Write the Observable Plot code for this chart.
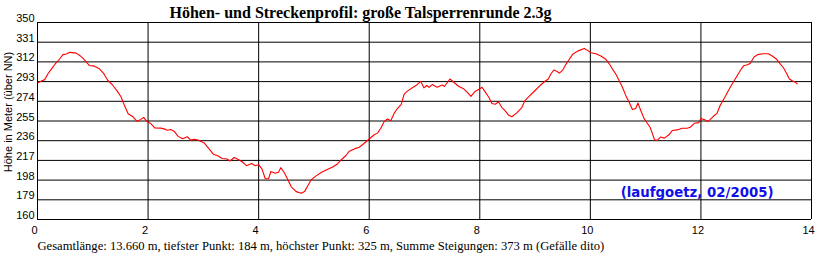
<!DOCTYPE html>
<html>
<head>
<meta charset="utf-8">
<script src="https://cdn.jsdelivr.net/npm/d3@7"></script>
<script src="https://cdn.jsdelivr.net/npm/@observablehq/plot@0.6"></script>
<style>
  html, body { margin: 0; padding: 0; background: #fff; }
  #chart svg { display: block; }
</style>
</head>
<body>
<div id="chart"></div>
<script>
const titleText = "Höhen- und Streckenprofil: große Talsperrenrunde 2.3g";
const footerText = "Gesamtlänge: 13.660 m, tiefster Punkt: 184 m, höchster Punkt: 325 m, Summe Steigungen: 373 m (Gefälle dito)";
const yAxisTitle = "Höhe in Meter (über NN)";
const annotationText = "(laufgoetz, 02/2005)";

const xTicks = [0, 2, 4, 6, 8, 10, 12, 14];
const yTicks = [160, 179, 198, 217, 236, 255, 274, 293, 312, 331, 350];

// distance along the route (km)
const dist = [
  0.01,0.07,0.13,0.19,0.25,0.32,0.40,0.46,0.52,0.59,0.70,0.77,0.85,0.94,1.03,1.12,1.20,1.27,1.36,1.44,
  1.51,1.57,1.64,1.72,1.80,1.86,1.92,1.98,2.05,2.12,2.23,2.29,2.35,2.41,2.47,2.54,2.62,2.71,2.77,2.84,
  2.92,3.01,3.10,3.18,3.26,3.34,3.43,3.48,3.56,3.64,3.70,3.78,3.87,3.94,4.00,4.06,4.12,4.18,4.22,4.30,
  4.36,4.40,4.46,4.52,4.59,4.68,4.77,4.83,4.89,4.95,5.04,5.13,5.25,5.34,5.43,5.50,5.58,5.64,5.73,5.82,
  5.90,6.00,6.09,6.15,6.21,6.27,6.33,6.39,6.45,6.51,6.58,6.63,6.69,6.78,6.86,6.93,6.99,7.04,7.08,7.14,
  7.23,7.32,7.36,7.46,7.53,7.62,7.71,7.77,7.84,7.92,8.00,8.04,8.10,8.16,8.22,8.28,8.34,8.40,8.46,8.52,
  8.58,8.67,8.76,8.82,8.91,9.00,9.09,9.18,9.24,9.29,9.34,9.40,9.44,9.50,9.56,9.62,9.68,9.77,9.89,9.95,
  10.01,10.10,10.19,10.28,10.34,10.40,10.46,10.52,10.58,10.64,10.70,10.76,10.82,10.86,10.91,10.97,11.03,11.08,11.12,11.16,
  11.21,11.27,11.34,11.42,11.48,11.57,11.66,11.75,11.81,11.88,11.96,12.00,12.08,12.12,12.17,12.23,12.29,12.35,12.44,12.53,
  12.62,12.71,12.77,12.84,12.89,12.96,13.04,13.13,13.22,13.29,13.37,13.43,13.49,13.55,13.60,13.65,13.71,13.74
];

// elevation (m above sea level)
const elev = [
  292.0,293.6,294.9,300.6,305.0,310.0,314.8,319.0,319.6,321.2,320.5,318.0,313.9,308.5,307.9,305.3,300.6,294.3,289.5,284.1,
  278.4,270.5,262.0,259.4,254.7,256.3,258.5,254.4,252.5,248.4,248.1,247.4,246.1,246.8,245.2,240.4,237.9,239.8,236.6,237.3,
  236.3,234.1,228.4,223.0,221.4,218.9,218.3,216.4,219.8,217.6,215.7,211.9,214.1,211.9,212.9,208.8,199.3,199.3,206.3,204.6,
  205.6,210.0,205.6,199.3,191.5,186.9,185.3,186.9,192.6,198.3,202.1,205.3,208.4,210.7,213.8,217.9,221.7,225.9,228.1,229.7,
  233.1,237.6,241.7,243.3,248.0,254.4,256.9,255.3,262.3,267.0,271.1,280.6,283.8,287.0,289.8,293.3,287.0,289.2,287.6,290.1,
  287.6,289.8,288.3,295.5,292.4,288.3,286.0,282.9,278.7,283.8,286.0,287.6,282.9,278.1,271.8,271.1,273.4,268.0,264.8,260.7,
  259.1,262.9,268.0,274.9,279.7,284.4,289.2,293.3,295.5,300.8,304.1,302.8,301.2,304.1,309.8,314.5,319.3,322.4,325.0,323.1,
  320.9,319.9,317.7,314.5,310.4,305.0,300.3,294.0,287.6,279.7,273.4,266.1,267.0,272.4,265.4,257.5,252.8,249.0,243.3,236.9,
  236.3,239.5,238.5,241.7,245.8,246.4,248.0,248.0,249.0,252.8,253.4,257.5,255.9,254.4,256.6,259.8,262.3,270.2,278.7,287.6,
  295.5,303.4,308.2,309.2,310.4,316.7,319.3,319.9,319.9,317.7,314.5,310.4,306.6,300.9,295.5,293.9,292.4,290.8
];

const sans = "'Liberation Sans', Arial, Helvetica, sans-serif";
const serif = "'Liberation Serif', 'Times New Roman', Times, serif";

const chart = Plot.plot({
  width: 816,
  height: 255,
  marginTop: 22,
  marginBottom: 36,
  marginLeft: 37,
  marginRight: 5,
  style: { fontFamily: sans, fontSize: "11px", color: "black", background: "white" },
  x: { domain: [0, 14] },
  y: { domain: [160, 350] },
  marks: [
    Plot.ruleY(yTicks, { stroke: "black", strokeWidth: 1 }),
    Plot.ruleX(xTicks, { stroke: "black", strokeWidth: 1 }),
    Plot.axisX(xTicks, { tickSize: 0, tickPadding: 7, dx: -3, label: null, fontSize: 11, fill: "black" }),
    Plot.axisY(yTicks, { tickSize: 0, tickPadding: 3, dy: -4, label: null, fontSize: 11, fill: "black" }),
    Plot.line(dist, { x: dist, y: elev, stroke: "#ff0000", strokeWidth: 1.1 }),
    Plot.text([titleText], {
      frameAnchor: "top", dx: -64, dy: -5, lineAnchor: "bottom",
      fontFamily: serif, fontWeight: "bold", fontSize: 16, fill: "black"
    }),
    Plot.text([footerText], {
      frameAnchor: "bottom-left", textAnchor: "start", dy: 30, lineAnchor: "bottom",
      fontFamily: serif, fontSize: 12.6, fill: "black"
    }),
    Plot.text([yAxisTitle], {
      frameAnchor: "left", textAnchor: "middle", lineAnchor: "middle", rotate: -90, dx: -29, dy: -9,
      fontFamily: sans, fontSize: 11, fill: "black"
    }),
    Plot.text([annotationText], {
      frameAnchor: "bottom-right", textAnchor: "end", lineAnchor: "bottom",
      dx: -38, dy: -23,
      fontFamily: "'DejaVu Sans', Verdana, sans-serif", fontWeight: "bold", fontSize: 13.3, fill: "#1010e8"
    })
  ]
});

document.getElementById("chart").appendChild(chart);
</script>
</body>
</html>
